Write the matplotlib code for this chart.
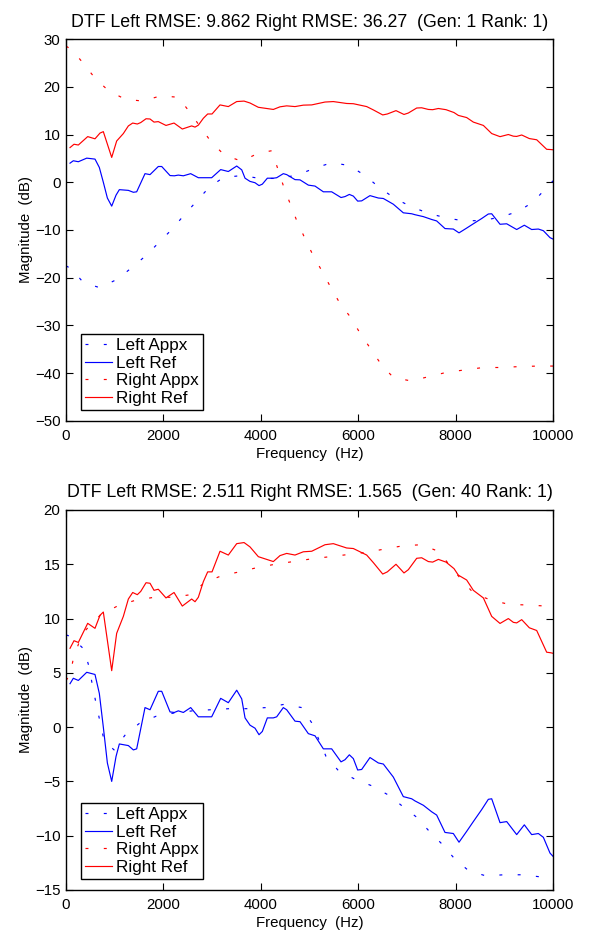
import matplotlib
matplotlib.use("Agg")
import matplotlib.pyplot as plt

plt.rcParams['font.family'] = ['Liberation Sans', 'DejaVu Sans']
plt.rcParams['font.size'] = 10.8

# reference curves (same in both panels)
left_ref_f = [82, 150, 253, 425, 595, 684, 766, 849, 938, 1027, 1095, 1280, 1383, 1451,
              1622, 1725, 1895, 1965, 2136, 2224, 2306, 2409, 2560, 2717, 2991, 3176,
              3333, 3505, 3608, 3676, 3778, 3881, 3963, 4031, 4134, 4257, 4326, 4462,
              4531, 4702, 4805, 4976, 5113, 5284, 5455, 5647, 5729, 5818, 5900, 5989,
              6071, 6242, 6413, 6516, 6721, 6926, 7098, 7167, 7338, 7509, 7611, 7782,
              7953, 8070, 8227, 8364, 8535, 8672, 8741, 8912, 9049, 9254, 9411, 9562,
              9699, 9802, 9938, 10000]
left_ref = [4.0, 4.5, 4.3, 5.05, 4.85, 3.1, 0.0, -3.3, -5.0, -2.7, -1.55, -1.7, -2.1, -2.0,
            1.8, 1.6, 3.3, 3.3, 1.4, 1.35, 1.5, 1.35, 1.8, 0.95, 0.95, 2.65,
            2.25, 3.4, 2.6, 0.85, 0.18, -0.1, -0.7, -0.4, 0.85, 0.85, 0.95, 1.8,
            1.6, 0.55, 0.5, -0.6, -0.8, -2.0, -2.0, -3.2, -3.0, -2.55, -2.9, -3.95,
            -3.9, -2.8, -3.3, -3.4, -4.6, -6.4, -6.6, -6.8, -7.2, -7.8, -8.1, -9.7,
            -9.8, -10.6, -9.6, -8.7, -7.6, -6.65, -6.6, -8.8, -8.7, -9.9, -9.0, -9.9,
            -9.8, -10.15, -11.6, -11.9]

right_ref_f = [82, 164, 253, 445, 595, 698, 766, 938, 1040, 1177, 1280, 1369, 1464, 1534,
               1643, 1725, 1807, 1895, 2053, 2218, 2388, 2580, 2649, 2717, 2820, 2909,
               2998, 3162, 3333, 3505, 3656, 3778, 3949, 4257, 4394, 4531, 4702, 4873,
               5045, 5318, 5489, 5763, 5900, 6174, 6311, 6503, 6598, 6776, 6940, 7029,
               7201, 7303, 7440, 7529, 7646, 7803, 7967, 8056, 8227, 8364, 8570, 8741,
               8912, 9083, 9186, 9254, 9357, 9514, 9665, 9870, 9952, 10000]
right_ref = [7.26, 7.96, 7.8, 9.56, 9.1, 10.3, 10.6, 5.2, 8.64, 10.2, 11.8, 12.4, 12.2, 12.5,
             13.3, 13.25, 12.6, 12.7, 11.9, 12.4, 11.15, 11.8, 11.55, 11.96, 13.4, 14.3,
             14.3, 16.2, 15.85, 16.9, 17.0, 16.6, 15.7, 15.25, 15.8, 16.0, 15.85, 16.15,
             16.2, 16.8, 16.9, 16.5, 16.45, 15.85, 15.15, 14.1, 14.3, 15.0, 14.2, 14.5,
             15.55, 15.6, 15.25, 15.2, 15.45, 15.2, 14.6, 14.0, 13.55, 12.6, 11.9, 10.2,
             9.55, 10.0, 9.65, 9.6, 9.9, 9.15, 8.9, 6.9, 6.85, 6.8]

# generation 1 approximations
gen1_left_f = [0, 117, 356, 698, 1054, 1349, 1636, 1910, 2170, 2423, 2670, 2936, 3230,
               3608, 3984, 4360, 4750, 5092, 5455, 5818, 6140, 6434, 6755, 7084, 7440,
               7817, 8179, 8556, 8925, 9288, 9596, 9870, 10000]
gen1_left = [-17.5, -18.2, -21.0, -22.1, -20.3, -17.9, -15.4, -12.6, -9.9, -6.9, -4.1, -1.1, 1.0,
             1.4, 0.8, 0.8, 1.5, 2.9, 4.1, 3.5, 1.4, -1.1, -3.4, -5.1, -6.5,
             -7.5, -8.1, -8.0, -7.3, -6.1, -4.1, -1.1, 0.3]
gen1_right_f = [0, 117, 356, 595, 869, 1212, 1575, 1944, 2306, 2532, 2977, 3251, 3608,
                3949, 4223, 4346, 4462, 4599, 4736, 4894, 5058, 5250, 5435, 5626, 5845,
                6037, 6257, 6468, 6721, 7078, 7460, 7817, 8193, 8569, 8946, 9322, 9698, 10000]
gen1_right = [28.5, 27.8, 24.9, 21.8, 19.2, 17.4, 17.0, 18.1, 17.8, 14.8, 8.5, 5.7, 4.4,
              6.1, 6.6, 2.9, -0.7, -4.4, -8.0, -11.5, -15.0, -18.5, -22.0, -25.4, -28.3,
              -31.6, -34.9, -38.1, -40.9, -41.6, -40.7, -39.8, -39.3, -38.8, -38.8, -38.6, -38.5, -38.5]

# generation 40 approximations
gen40_left_f = [0, 103, 370, 472, 540, 616, 698, 780, 986, 1218, 1505, 1848, 2220, 2601,
                2970, 3353, 3730, 4107, 4483, 4839, 5045, 5339, 5592, 5935, 6277, 6618,
                6913, 7201, 7460, 7727, 7974, 8261, 8618, 8994, 9378, 9754, 10000]
gen40_left = [8.5, 8.33, 7.17, 5.57, 3.9, 2.2, 0.5, -1.2, -2.1, -0.7, 0.34, 1.0, 1.3, 1.5,
              1.6, 1.7, 1.7, 1.8, 2.1, 1.8, 0.4, -2.7, -4.0, -4.8, -5.4, -6.25,
              -7.3, -8.3, -9.6, -10.8, -12.1, -13.2, -13.7, -13.6, -13.6, -13.8, -13.8]
gen40_right_f = [0, 82, 150, 330, 700, 1074, 1437, 1813, 2191, 2560, 2840, 3197, 3559,
                 3929, 4292, 4668, 5045, 5421, 5797, 6174, 6537, 6914, 7290, 7646, 8125,
                 8378, 8727, 9103, 9480, 9856, 10000]
gen40_right = [4.3, 4.8, 6.3, 8.6, 10.3, 11.2, 11.7, 11.96, 11.96, 12.2, 13.3, 13.95, 14.3,
               14.7, 15.0, 15.25, 15.5, 15.7, 15.9, 16.1, 16.4, 16.7, 16.8, 16.2, 13.55,
               12.3, 11.7, 11.3, 11.25, 11.15, 11.1]

titles = ["DTF Left RMSE: 9.862 Right RMSE: 36.27  (Gen: 1 Rank: 1)",
          "DTF Left RMSE: 2.511 Right RMSE: 1.565  (Gen: 40 Rank: 1)"]

DOT = (0, (2.5, 13))


def draw_panel(ax, left_f, left, right_f, right, title, ylim, yticks):
    ax.plot(left_f, left, color='blue', lw=0.85, linestyle=DOT, label='Left Appx')
    ax.plot(left_ref_f, left_ref, color='blue', lw=0.85, label='Left Ref')
    ax.plot(right_f, right, color='red', lw=0.85, linestyle=DOT, label='Right Appx')
    ax.plot(right_ref_f, right_ref, color='red', lw=0.85, label='Right Ref')
    ax.set_xlim(0, 10000)
    ax.set_ylim(*ylim)
    ax.set_xticks(range(0, 10001, 2000))
    ax.set_yticks(yticks)
    ax.tick_params(direction='in', top=True, right=True, length=5, width=0.8, pad=4)
    ax.tick_params(axis='x', pad=6)
    for s in ax.spines.values():
        s.set_linewidth(1.0)
    ax.set_xlabel("Frequency  (Hz)", labelpad=3)
    ax.set_ylabel("Magnitude  (dB)", labelpad=1)
    ax.set_title(title, fontsize=12.8, pad=9)
    leg = ax.legend(loc='lower left', bbox_to_anchor=(0.03, 0.029), fancybox=False,
                    edgecolor='black', framealpha=1, fontsize=12.3, labelspacing=0.15,
                    borderpad=0.25, handlelength=1.6, handletextpad=0.2, borderaxespad=0.0)
    leg.get_frame().set_linewidth(1.0)


fig = plt.figure(figsize=(5.9, 9.38), dpi=100)
ax1 = fig.add_axes([0.1119, 0.5512, 0.8254, 0.4072])
ax2 = fig.add_axes([0.1119, 0.0512, 0.8254, 0.4051])

draw_panel(ax1, gen1_left_f, gen1_left, gen1_right_f, gen1_right, titles[0],
           (-50, 30), range(-50, 31, 10))
draw_panel(ax2, gen40_left_f, gen40_left, gen40_right_f, gen40_right, titles[1],
           (-15, 20), range(-15, 21, 5))

fig.savefig("out.png", dpi=100)
